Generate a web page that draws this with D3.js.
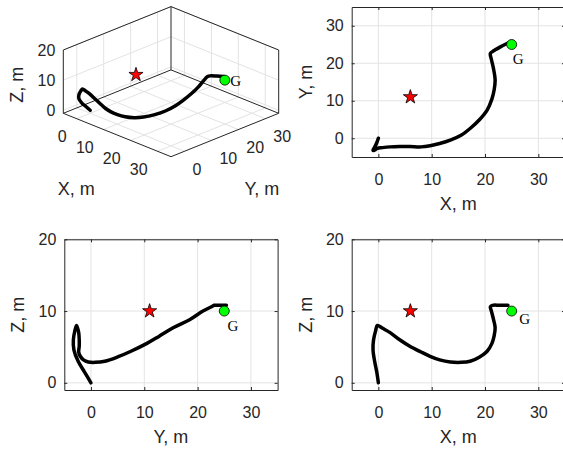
<!DOCTYPE html>
<html>
<head>
<meta charset="utf-8">
<script src="https://cdn.jsdelivr.net/npm/d3@7"></script>
<style>
  body { margin: 0; background: #fff; }
  svg { display: block; }
</style>
</head>
<body>
<svg id="chart" width="563" height="452"></svg>
<script>
// flight path samples (metres)
const pathX = [0, -0.3, -0.7, -1.0, -0.9, -0.5, -0.2, 0.8, 2.2, 4.0, 5.9, 8.0, 9.7, 11.5, 13.5, 15.5, 17.2, 19.0, 20.4, 21.3, 21.7, 21.9, 21.6, 21.2, 21.0, 21.4, 22.8, 24.3]
const pathY = [0, -1.2, -2.4, -3.2, -3.3, -3.0, -2.7, -2.5, -2.3, -2.2, -2.2, -2.3, -2.0, -1.4, -0.5, 0.8, 2.6, 5.0, 7.5, 10.5, 12.8, 15.5, 18.5, 21.0, 22.6, 23.1, 24.3, 25.4]
const pathZ = [0, 1.5, 3.0, 4.6, 6.0, 7.3, 8.0, 7.6, 7.0, 6.0, 5.1, 4.3, 3.7, 3.2, 2.9, 2.85, 3.0, 3.6, 4.4, 5.5, 6.5, 7.7, 8.8, 10.0, 10.6, 10.8, 10.8, 10.8]

const star = [6, 11, 10]
const goal = [25, 25, 10]
const goalText = "G"
// where the "G" sits in each view
const gLabel3d = [25, 27, 9]
const gLabelXY = [25.2, 21.3]
const gLabelYZ = [25.6, 7.9]
const gLabelXZ = [26.4, 8.9]

const xyDomain = [-5, 35]
const zDomain = [-1, 20]
const xyTicks = [0, 10, 20, 30]
const zTicks = [0, 10, 20]

const pts = pathX.map((x, i) => ({x: x, y: pathY[i], z: pathZ[i]}))

const svg = d3.select("#chart")
const font = "'Liberation Sans', Arial, Helvetica, sans-serif"
const ink = "#262626"
const gridCol = "#e3e3e3"
const tickFont = 16
const labelFont = 18

function drawMarkers(g, sx, sy, starPos, goalPos, lab) {
  g.append("path")
    .attr("d", d3.symbol().type(d3.symbolStar).size(62)())
    .attr("transform", `translate(${sx(starPos[0])},${sy(starPos[1])})`)
    .attr("fill", "#ff0000").attr("stroke", "#000").attr("stroke-width", 0.8)
  g.append("circle")
    .attr("cx", sx(goalPos[0])).attr("cy", sy(goalPos[1])).attr("r", 5)
    .attr("fill", "#00ff00").attr("stroke", "#000").attr("stroke-width", 0.8)
  g.append("text")
    .attr("x", sx(lab[0])).attr("y", sy(lab[1])).attr("dy", "0.35em")
    .attr("font-family", "'Liberation Serif', 'Times New Roman', serif")
    .attr("font-size", 15).attr("fill", "#000")
    .text(goalText)
}

// ---------- 2D panels ----------
function panel2d(cfg) {
  const x = d3.scaleLinear().domain(cfg.xDom).range(cfg.xRange)
  const y = d3.scaleLinear().domain(cfg.yDom).range(cfg.yRange)
  const g = svg.append("g")
  const x0 = cfg.xRange[0], x1 = cfg.xRange[1], y0 = cfg.yRange[1], y1 = cfg.yRange[0]

  // grid
  g.append("g").selectAll("line").data(cfg.xTicks).join("line")
    .attr("x1", d => x(d)).attr("x2", d => x(d)).attr("y1", y0).attr("y2", y1)
    .attr("stroke", gridCol)
  g.append("g").selectAll("line").data(cfg.yTicks).join("line")
    .attr("y1", d => y(d)).attr("y2", d => y(d)).attr("x1", x0).attr("x2", x1)
    .attr("stroke", gridCol)

  const axB = g.append("g").attr("transform", `translate(0,${y1})`)
    .call(d3.axisBottom(x).tickValues(cfg.xTicks).tickSizeInner(-3).tickSizeOuter(0).tickPadding(16.5))
  const axL = g.append("g").attr("transform", `translate(${x0},0)`)
    .call(d3.axisLeft(y).tickValues(cfg.yTicks).tickSizeInner(-3).tickSizeOuter(0).tickPadding(8))
  const axT = g.append("g").attr("transform", `translate(0,${y0})`)
    .call(d3.axisTop(x).tickValues(cfg.xTicks).tickSizeInner(-3).tickSizeOuter(0).tickFormat(""))
  const axR = g.append("g").attr("transform", `translate(${x1},0)`)
    .call(d3.axisRight(y).tickValues(cfg.yTicks).tickSizeInner(-3).tickSizeOuter(0).tickFormat(""))
  ;[axB, axL, axT, axR].forEach(a => {
    a.attr("font-family", font).attr("font-size", tickFont)
    a.selectAll("path.domain").attr("stroke", ink)
    a.selectAll("line").attr("stroke", ink)
    a.selectAll("text").attr("fill", ink)
  })

  g.append("text")
    .attr("x", (x0 + x1) / 2).attr("y", y1 + 53)
    .attr("text-anchor", "middle").attr("font-family", font).attr("font-size", labelFont).attr("fill", ink)
    .text(cfg.xLabel)
  g.append("text")
    .attr("transform", `translate(${x0 - 40},${(y0 + y1) / 2}) rotate(-90)`)
    .attr("text-anchor", "middle").attr("font-family", font).attr("font-size", labelFont).attr("fill", ink)
    .text(cfg.yLabel)

  const line = d3.line().x(d => x(d[cfg.kx])).y(d => y(d[cfg.ky])).curve(d3.curveCatmullRom.alpha(0.5))
  g.append("path").datum(pts).attr("d", line)
    .attr("fill", "none").attr("stroke", "#000").attr("stroke-width", 3.5)
    .attr("stroke-linejoin", "round").attr("stroke-linecap", "round")

  const pick = p => [p[cfg.ix], p[cfg.iy]]
  drawMarkers(g, x, y, pick(star), pick(goal), cfg.gLab)
}

panel2d({xDom: xyDomain, yDom: xyDomain, xRange: [351.7, 565], yRange: [157, 7],
  xTicks: xyTicks, yTicks: xyTicks, kx: "x", ky: "y", ix: 0, iy: 1,
  xLabel: "X, m", yLabel: "Y, m", gLab: gLabelXY})
panel2d({xDom: xyDomain, yDom: zDomain, xRange: [64.3, 277.6], yRange: [390, 239.3],
  xTicks: xyTicks, yTicks: zTicks, kx: "y", ky: "z", ix: 1, iy: 2,
  xLabel: "Y, m", yLabel: "Z, m", gLab: gLabelYZ})
panel2d({xDom: xyDomain, yDom: zDomain, xRange: [351.7, 565], yRange: [390, 239.3],
  xTicks: xyTicks, yTicks: zTicks, kx: "x", ky: "z", ix: 0, iy: 2,
  xLabel: "X, m", yLabel: "Z, m", gLab: gLabelXZ})

// ---------- 3D panel (oblique box, az 45 style) ----------
const fx = d3.scaleLinear().domain(xyDomain).range([0, 1])
const fy = d3.scaleLinear().domain(xyDomain).range([0, 1])
const fz = d3.scaleLinear().domain(zDomain).range([0, 1])
const O = [63.3, 113.3], ex = [107.7, 43.4], ey = [107.7, -43.4], ez = [0, -63.3]
function proj(x, y, z) {
  const a = fx(x), b = fy(y), c = fz(z)
  return [O[0] + a * ex[0] + b * ey[0] + c * ez[0], O[1] + a * ex[1] + b * ey[1] + c * ez[1]]
}
const [xmin, xmax] = xyDomain, [ymin, ymax] = xyDomain, [zmin, zmax] = zDomain
const g3 = svg.append("g")
const seg = (g, a, b, col) => g.append("line")
  .attr("x1", a[0]).attr("y1", a[1]).attr("x2", b[0]).attr("y2", b[1]).attr("stroke", col)

// grid on the three back planes
xyTicks.forEach(t => {
  seg(g3, proj(xmin, t, zmin), proj(xmin, t, zmax), gridCol)   // left wall
  seg(g3, proj(xmin, t, zmin), proj(xmax, t, zmin), gridCol)   // floor
  seg(g3, proj(t, ymax, zmin), proj(t, ymax, zmax), gridCol)   // right wall
  seg(g3, proj(t, ymin, zmin), proj(t, ymax, zmin), gridCol)   // floor
})
zTicks.forEach(t => {
  seg(g3, proj(xmin, ymin, t), proj(xmin, ymax, t), gridCol)
  seg(g3, proj(xmin, ymax, t), proj(xmax, ymax, t), gridCol)
})
// box outline
;[
  [[xmin, ymin, zmin], [xmin, ymin, zmax]],
  [[xmin, ymin, zmax], [xmin, ymax, zmax]],
  [[xmin, ymax, zmax], [xmax, ymax, zmax]],
  [[xmax, ymax, zmax], [xmax, ymax, zmin]],
  [[xmin, ymax, zmax], [xmin, ymax, zmin]],
  [[xmin, ymax, zmin], [xmin, ymin, zmin]],
  [[xmin, ymax, zmin], [xmax, ymax, zmin]],
  [[xmin, ymin, zmin], [xmax, ymin, zmin]],
  [[xmax, ymin, zmin], [xmax, ymax, zmin]]
].forEach(e => seg(g3, proj(...e[0]), proj(...e[1]), ink))

// tick labels
const t3 = (p, anchor, s) => g3.append("text")
  .attr("x", p[0]).attr("y", p[1]).attr("dy", "0.35em").attr("text-anchor", anchor)
  .attr("font-family", font).attr("font-size", tickFont).attr("fill", ink).text(s)
xyTicks.forEach(t => {
  const p = proj(t, ymin, zmin)
  t3([p[0] - 10, p[1] + 18], "end", t)
  const q = proj(xmax, t, zmin)
  t3([q[0] + 8, q[1] + 18], "start", t)
})
zTicks.forEach(t => {
  const p = proj(xmin, ymin, t)
  t3([p[0] - 8, p[1]], "end", t)
})
const xMid = proj((xmin + xmax) / 2, ymin, zmin)
const yMid = proj(xmax, (ymin + ymax) / 2, zmin)
const zMid = proj(xmin, ymin, (zmin + zmax) / 2)
g3.append("text").attr("x", xMid[0] - 41).attr("y", xMid[1] + 60)
  .attr("text-anchor", "middle").attr("font-family", font).attr("font-size", labelFont).attr("fill", ink).text("X, m")
g3.append("text").attr("x", yMid[0] + 37).attr("y", yMid[1] + 60)
  .attr("text-anchor", "middle").attr("font-family", font).attr("font-size", labelFont).attr("fill", ink).text("Y, m")
g3.append("text").attr("transform", `translate(${zMid[0] - 40},${zMid[1] + 3}) rotate(-90)`)
  .attr("text-anchor", "middle").attr("font-family", font).attr("font-size", labelFont).attr("fill", ink).text("Z, m")

const line3 = d3.line().x(d => proj(d.x, d.y, d.z)[0]).y(d => proj(d.x, d.y, d.z)[1])
  .curve(d3.curveCatmullRom.alpha(0.5))
g3.append("path").datum(pts).attr("d", line3)
  .attr("fill", "none").attr("stroke", "#000").attr("stroke-width", 3.5)
  .attr("stroke-linejoin", "round").attr("stroke-linecap", "round")

// 3D marker positions are already in pixels after projection
const ident = v => v
const s3 = proj(...star), g3p = proj(...goal), l3 = proj(...gLabel3d)
drawMarkers(g3, ident, ident, [s3[0], s3[1]], [g3p[0], g3p[1]], [l3[0], l3[1]])
</script>
</body>
</html>
